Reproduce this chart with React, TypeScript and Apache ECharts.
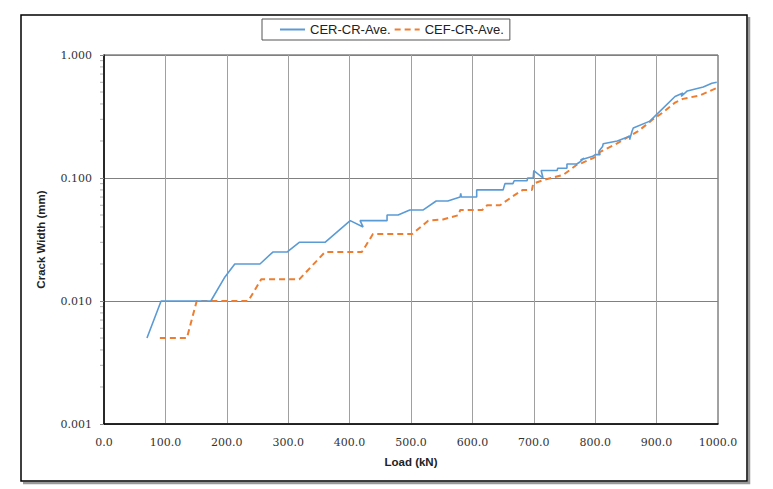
import React, { useEffect, useRef } from "react";
import * as echarts from "echarts";

// CER-CR-Ave. (solid blue)
const cerLoad = [70, 93, 174, 197, 213, 254, 275, 298, 318, 360, 401, 422, 417, 461, 461, 479, 498, 520, 541, 560, 580, 581, 582, 607, 607, 650, 653, 666, 668, 689, 690, 699, 700, 715, 712, 738, 739, 754, 754, 770, 775, 782, 776, 796, 800, 808, 806, 812, 813, 836, 857, 856, 860, 862, 889, 930, 943, 940, 950, 976, 990, 998];
const cerWidth = [0.005, 0.01, 0.01, 0.0157, 0.02, 0.02, 0.025, 0.025, 0.03, 0.03, 0.045, 0.04, 0.045, 0.045, 0.05, 0.05, 0.055, 0.055, 0.065, 0.065, 0.07, 0.075, 0.07, 0.07, 0.08, 0.08, 0.09, 0.09, 0.095, 0.095, 0.1, 0.1, 0.115, 0.1, 0.115, 0.115, 0.12, 0.12, 0.13, 0.13, 0.135, 0.145, 0.14, 0.15, 0.155, 0.155, 0.165, 0.18, 0.19, 0.2, 0.22, 0.205, 0.24, 0.255, 0.29, 0.46, 0.49, 0.46, 0.51, 0.55, 0.59, 0.6];

// CEF-CR-Ave. (dashed orange)
const cefLoad = [91, 135, 151, 235, 256, 318, 360, 420, 438, 502, 528, 552, 578, 580, 616, 624, 645, 664, 682, 697, 699, 715, 748, 770, 778, 800, 808, 835, 870, 894, 910, 930, 943, 971, 998];
const cefWidth = [0.005, 0.005, 0.01, 0.01, 0.015, 0.015, 0.025, 0.025, 0.035, 0.035, 0.045, 0.046, 0.05, 0.055, 0.055, 0.06, 0.06, 0.07, 0.08, 0.08, 0.09, 0.096, 0.106, 0.128, 0.132, 0.148, 0.163, 0.19, 0.24, 0.3, 0.34, 0.41, 0.44, 0.47, 0.54];

const seriesNames = ["CER-CR-Ave.", "CEF-CR-Ave."];
const minorTickValues = [
  0.002, 0.003, 0.004, 0.005, 0.006, 0.007, 0.008, 0.009,
  0.02, 0.03, 0.04, 0.05, 0.06, 0.07, 0.08, 0.09,
  0.2, 0.3, 0.4, 0.5, 0.6, 0.7, 0.8, 0.9,
];

export default function App() {
  const ref = useRef<HTMLDivElement>(null);
  useEffect(() => {
    if (!ref.current) return;
    const chart = echarts.init(ref.current, null, { renderer: "svg" });
    const cer = cerLoad.map((x, i) => [x, cerWidth[i]]);
    const cef = cefLoad.map((x, i) => [x, cefWidth[i]]);
    const labelFont = { fontFamily: "DejaVu Serif", fontSize: 11, color: "#333" };
    chart.setOption({
      animation: false,
      backgroundColor: "#fff",
      graphic: [
        {
          type: "polyline",
          silent: true,
          shape: { points: [[749, 17], [749, 483], [23, 483]] },
          style: { fill: "none", stroke: "#999", lineWidth: 2.5 },
        },
        {
          type: "rect",
          silent: true,
          shape: { x: 21, y: 15, width: 726, height: 466 },
          style: { fill: "none", stroke: "#000", lineWidth: 1.5 },
        },
      ],
      legend: {
        data: seriesNames,
        left: 262,
        top: 19,
        itemWidth: 25,
        itemHeight: 10,
        itemGap: 3,
        padding: [4, 6, 4, 17],
        borderColor: "#555",
        borderWidth: 1,
        itemStyle: { opacity: 0 },
        textStyle: { fontFamily: "Liberation Sans", fontSize: 13, color: "#222" },
      },
      grid: {
        left: 104,
        top: 55,
        right: 55,
        bottom: 65,
        show: true,
        borderColor: "#444",
        borderWidth: 1,
      },
      xAxis: {
        type: "value",
        min: 0,
        max: 1000,
        interval: 100,
        name: "Load (kN)",
        nameLocation: "middle",
        nameGap: 32,
        nameTextStyle: { fontFamily: "Liberation Sans", fontSize: 11.5, fontWeight: "bold", color: "#222" },
        axisLine: { lineStyle: { color: "#000", width: 1.5 } },
        axisTick: { show: false },
        axisLabel: { ...labelFont, margin: 13, formatter: (v: number) => v.toFixed(1) },
        splitLine: { show: true, lineStyle: { color: "#a0a0a0", width: 1 } },
      },
      yAxis: {
        type: "log",
        logBase: 10,
        min: 0.001,
        max: 1,
        name: "Crack Width (mm)",
        nameLocation: "middle",
        nameGap: 57,
        nameTextStyle: { fontFamily: "Liberation Sans", fontSize: 11.5, fontWeight: "bold", color: "#222" },
        axisLine: { show: true, lineStyle: { color: "#000", width: 1.5 } },
        axisTick: { show: true, inside: false, length: 4, lineStyle: { color: "#888" } },
        axisLabel: { ...labelFont, margin: 12, formatter: (v: number) => v.toFixed(3) },
        splitLine: { show: true, lineStyle: { color: "#808080", width: 1 } },
      },
      series: [
        {
          name: seriesNames[0],
          type: "line",
          data: cer,
          symbol: "none",
          color: "#5B9BD5",
          lineStyle: { color: "#5B9BD5", width: 1.6 },
          z: 3,
        },
        {
          name: seriesNames[1],
          type: "line",
          data: cef,
          symbol: "none",
          color: "#ED7D31",
          lineStyle: { color: "#ED7D31", width: 2, type: [6, 4] },
          z: 2,
        },
        {
          name: "minorTicks",
          type: "custom",
          silent: true,
          data: minorTickValues.map((v) => [0, v]),
          renderItem: (_params: any, api: any) => {
            const p = api.coord([api.value(0), api.value(1)]);
            return {
              type: "line",
              shape: { x1: p[0] - 4, y1: p[1], x2: p[0] - 1, y2: p[1] },
              style: { stroke: "#b0b0b0", lineWidth: 1 },
            };
          },
          z: 1,
        },
      ],
    });
    return () => chart.dispose();
  }, []);
  return (
    <div
      ref={ref}
      style={{ position: "fixed", left: 0, top: 0, width: 773, height: 489, background: "#fff" }}
    />
  );
}
